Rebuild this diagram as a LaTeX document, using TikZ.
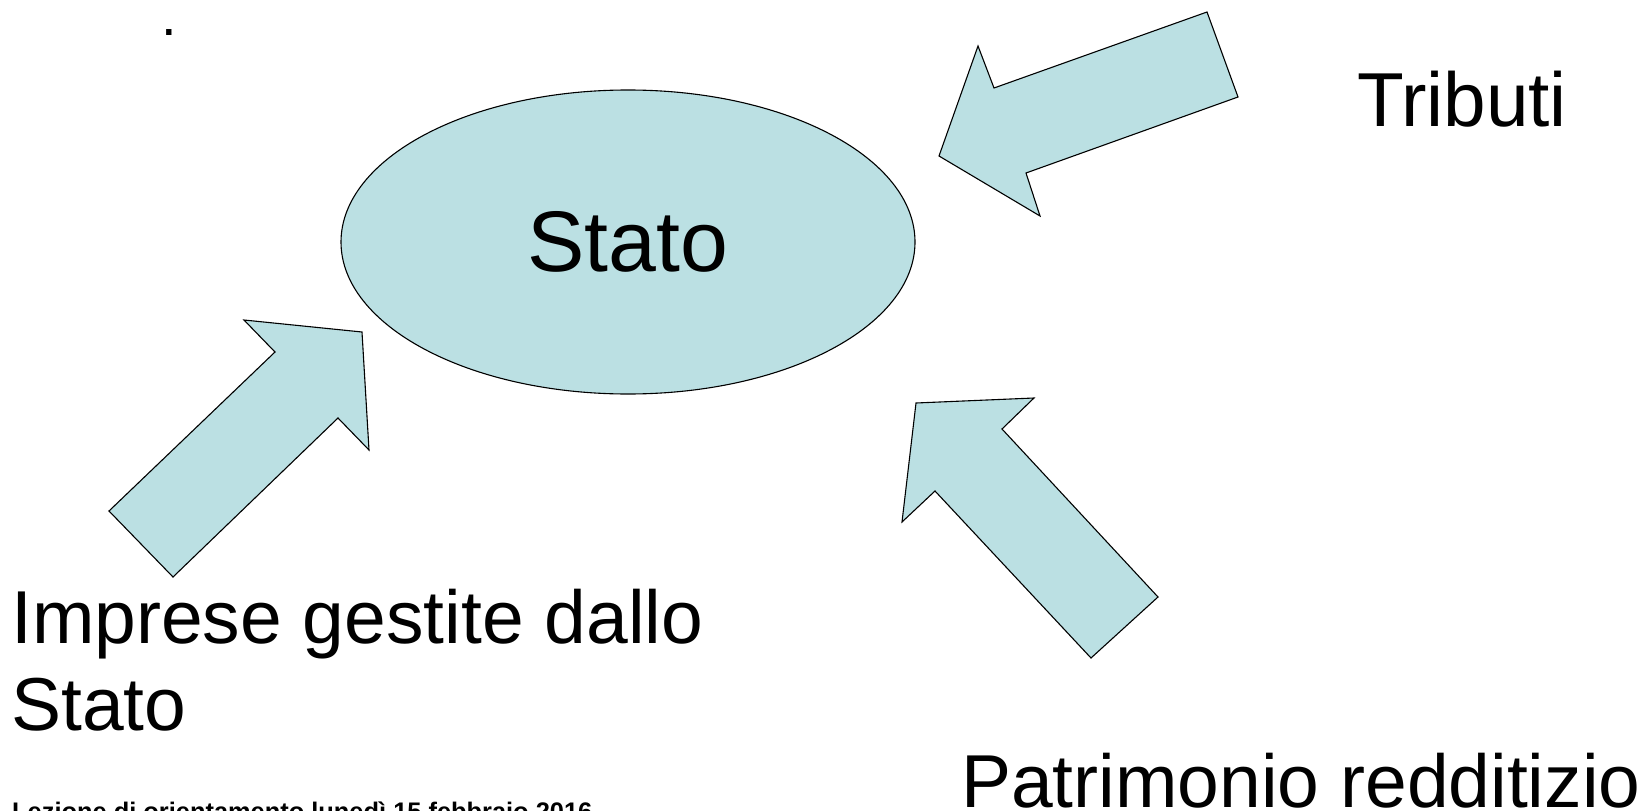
\documentclass[tikz,border=0pt]{standalone}
\usepackage{fontspec}
\setmainfont{Liberation Sans}
\usetikzlibrary{shapes.geometric}
\definecolor{statoblu}{RGB}{187,224,227}

\begin{document}
\begin{tikzpicture}[x=1pt, y=-1pt,
    grande/.style={font=\fontsize{75}{87}\selectfont, inner sep=0pt},
    freccia/.style={draw, fill=statoblu, line width=1.1pt, line join=miter}]
\useasboundingbox (0,0) rectangle (1647,811);

\node[draw, ellipse, fill=statoblu, line width=1.1pt, minimum width=574pt, minimum height=304pt,
      font=\fontsize{86}{90}\selectfont] (S) at (628,242) {Stato};

% frecce verso lo Stato
\draw[freccia] (1207,12) -- (1238,97) -- (1026,173) -- (1040,216) -- (939,156) -- (978,46) -- (994,88) -- cycle;
\draw[freccia] (109,511) -- (173,577) -- (338,418) -- (369,450) -- (362,332) -- (244,320) -- (275,352) -- cycle;
\draw[freccia] (1091,658) -- (1158,597) -- (1002,429) -- (1034,398) -- (916,403) -- (902,522) -- (935,491) -- cycle;

\node[grande, font=\fontsize{76.5}{87}\selectfont, anchor=base west] (T) at (1357,126) {Tributi};
\node[grande, anchor=base west] (I) at (11,643) {Imprese gestite dallo};
\node[grande, anchor=base west] (I2) at (11,730) {Stato};
\node[grande, anchor=base west] (P) at (961,807) {Patrimonio redditizio};

\node[font=\bfseries\fontsize{25.4}{30}\selectfont, anchor=base west, inner sep=0pt] (L) at (12,820) {Lezione di orientamento lunedì 15 febbraio 2016};
\node[font=\fontsize{56}{60}\selectfont, anchor=base, inner sep=0pt] (punto) at (169,35) {.};
\end{tikzpicture}
\end{document}
